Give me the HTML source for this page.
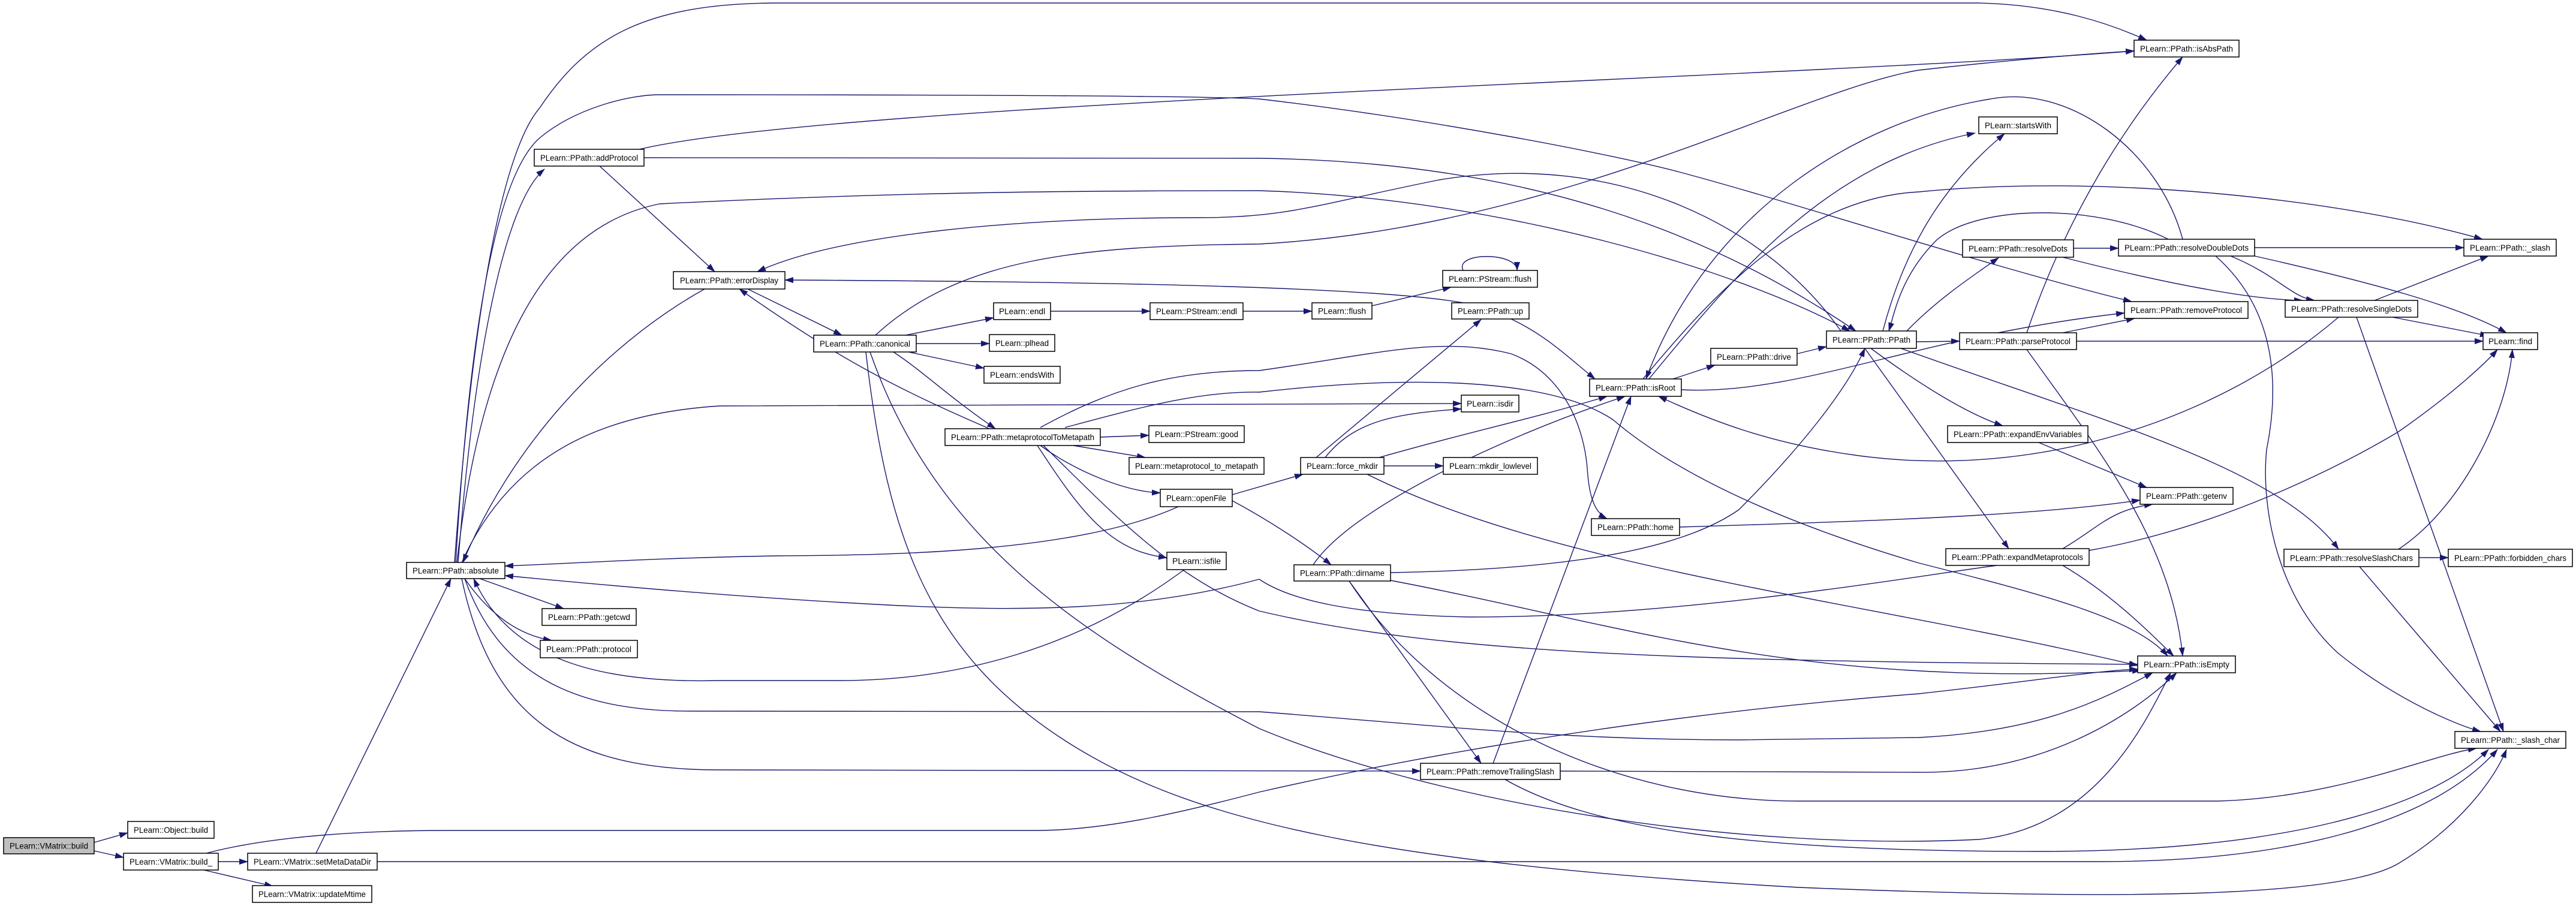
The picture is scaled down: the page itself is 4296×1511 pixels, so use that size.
<!DOCTYPE html>
<html><head><meta charset="utf-8"><style>
html,body{margin:0;padding:0;background:#fff;}
svg{display:block;}
text{font-family:"Liberation Sans",sans-serif;font-size:14px;fill:#000;}
.e{fill:none;stroke:#191970;stroke-width:1.4;marker-end:url(#a);}
.n{fill:#fff;stroke:#000;stroke-width:1.5;}
</style></head><body>
<svg width="4296" height="1511" viewBox="0 0 4296 1511" xmlns="http://www.w3.org/2000/svg">
<defs><marker id="a" markerWidth="15" markerHeight="10" refX="14" refY="5" orient="auto" markerUnits="userSpaceOnUse"><path d="M0,0 L15,5 L0,10 z" fill="#191970"/></marker></defs>
<g>
<path class="e" d="M157 1405 L213 1389"/>
<path class="e" d="M157 1419 L206 1430"/>
<path class="e" d="M364 1437 L413 1437"/>
<path class="e" d="M340 1451 L455 1478"/>
<path class="e" d="M344 1423 C450 1395 600 1385 750 1385 L1728 1385 C1850 1385 1990 1350 2100 1321 C2500 1230 2900 1180 3200 1157 C3400 1135 3500 1118 3565 1116"/>
<path class="e" d="M527 1423 L752 965"/>
<path class="e" d="M629 1437 L3500 1437 C3800 1437 4050 1380 4165 1250"/>
<path class="e" d="M800 965 L940 1015"/>
<path class="e" d="M775 965 C820 1030 870 1060 920 1068"/>
<path class="e" d="M758 938 C790 500 840 250 900 180 C980 60 1080 5 1300 5 L3300 5 C3430 8 3520 40 3580 67"/>
<path class="e" d="M764 938 C790 600 840 340 908 282"/>
<path class="e" d="M762 938 C800 600 900 380 1100 340 C1500 320 1800 318 2100 318 C2500 330 2900 450 3085 552"/>
<path class="e" d="M760 938 C780 600 820 300 900 230 C960 180 1050 158 1100 158 C1600 158 2000 160 2100 165 C2400 200 2700 260 2801 287 C3000 340 3300 440 3555 503"/>
<path class="e" d="M770 938 C850 760 1000 690 1200 677 L2437 673"/>
<path class="e" d="M775 965 C830 1120 950 1186 1150 1186 L2100 1187 C2400 1210 2600 1234 2900 1234 L3200 1230 C3400 1220 3500 1170 3590 1122"/>
<path class="e" d="M770 965 C820 1200 950 1284 1200 1284 L2369 1286"/>
<path class="e" d="M1066 249 C1400 170 3000 130 3559 85"/>
<path class="e" d="M1074 263 L2100 264 C2600 270 2900 420 3095 552"/>
<path class="e" d="M1000 277 L1192 453"/>
<path class="e" d="M1175 482 C1000 580 850 750 772 938"/>
<path class="e" d="M1247 482 L1404 559"/>
<path class="e" d="M1510 559 L1657 530"/>
<path class="e" d="M1528 573 L1650 573"/>
<path class="e" d="M1515 587 L1641 614"/>
<path class="e" d="M1490 587 C1540 620 1580 660 1660 715"/>
<path class="e" d="M1460 559 C1600 430 1800 410 2100 407 C2600 380 3000 150 3200 117 C3350 100 3480 90 3559 85"/>
<path class="e" d="M1444 587 C1480 900 1550 1100 1800 1250 C2000 1370 2300 1440 3000 1480 C3500 1500 3900 1500 4000 1440 C4100 1380 4160 1300 4180 1250"/>
<path class="e" d="M1451 587 C1560 900 1800 1060 2100 1215 C2400 1340 2900 1420 3300 1400 C3500 1380 3580 1200 3620 1122"/>
<path class="e" d="M1752 519 L1918 519"/>
<path class="e" d="M2073 519 L2188 519"/>
<path class="e" d="M2288 510 L2420 479"/>
<path class="e" d="M2440 451 C2425 420 2530 420 2530 451"/>
<path class="e" d="M1835 729 L1916 726"/>
<path class="e" d="M1790 743 L1910 763"/>
<path class="e" d="M1735 743 C1800 790 1880 820 1935 822"/>
<path class="e" d="M1730 743 C1800 850 1850 920 1946 930"/>
<path class="e" d="M1650 715 C1500 650 1400 600 1233 482"/>
<path class="e" d="M1735 713 C1850 650 1950 618 2100 618 C2300 590 2400 560 2520 590 C2600 620 2640 700 2647 780 C2650 830 2660 855 2680 865"/>
<path class="e" d="M1776 713 C1900 680 2000 652 2100 654 C2400 620 2600 640 2690 700 C2760 760 2900 850 3200 939 C3400 990 3560 1030 3615 1094"/>
<path class="e" d="M1740 743 C1850 850 1950 960 2100 1019 C2400 1090 2800 1103 3565 1108"/>
<path class="e" d="M2750 632 C2900 450 3050 270 3294 222"/>
<path class="e" d="M2740 632 C2850 500 3000 330 3200 320 C3500 290 3900 330 4140 399"/>
<path class="e" d="M2790 632 L2860 609"/>
<path class="e" d="M2997 590 L3046 578"/>
<path class="e" d="M2804 650 C3000 660 3200 560 3543 522"/>
<path class="e" d="M2520 532 C2580 560 2620 600 2660 632"/>
<path class="e" d="M2440 505 C2300 480 1900 470 1309 467"/>
<path class="e" d="M3070 552 C2950 380 2700 250 2400 300 C2200 340 2150 363 2000 363 C1700 363 1400 390 1263 453"/>
<path class="e" d="M2195 763 L2470 533"/>
<path class="e" d="M2210 763 C2260 700 2330 690 2437 682"/>
<path class="e" d="M2308 777 L2407 777"/>
<path class="e" d="M2280 791 C2600 950 3100 1000 3565 1110"/>
<path class="e" d="M2300 763 C2450 720 2550 700 2680 661"/>
<path class="e" d="M2055 835 C2120 870 2180 910 2220 942"/>
<path class="e" d="M2055 825 L2173 791"/>
<path class="e" d="M1965 845 C1800 920 1500 926 1300 927 C1100 930 950 940 842 944"/>
<path class="e" d="M1975 950 C1800 1080 1600 1135 1400 1135 L1200 1135 C1000 1140 850 1100 790 965"/>
<path class="e" d="M3330 943 C3200 960 2800 1030 2450 1029 C2250 1025 2150 1000 2100 966 C1900 1020 1700 1019 1500 1010 C1200 995 950 970 842 960"/>
<path class="e" d="M2190 942 C2250 850 2500 730 2710 661"/>
<path class="e" d="M2250 969 L2470 1273"/>
<path class="e" d="M2319 955 C2600 950 2800 920 2900 850 C3000 750 3080 650 3110 581"/>
<path class="e" d="M2319 968 C2700 1040 3000 1150 3570 1118"/>
<path class="e" d="M2250 969 C2400 1200 2700 1336 3000 1336 L3700 1336 C3900 1330 4050 1260 4130 1248"/>
<path class="e" d="M2490 1273 L2720 661"/>
<path class="e" d="M2602 1286 L3200 1288 C3400 1290 3550 1200 3630 1122"/>
<path class="e" d="M2510 1300 C2650 1380 2900 1420 3400 1420 C3800 1420 4050 1350 4150 1250"/>
<path class="e" d="M2801 879 C3100 870 3400 860 3569 834"/>
<path class="e" d="M3380 555 C3450 350 3550 200 3640 95"/>
<path class="e" d="M3140 552 C3180 400 3250 300 3343 223"/>
<path class="e" d="M3180 552 C3230 500 3290 460 3333 430"/>
<path class="e" d="M3196 570 L3268 569"/>
<path class="e" d="M3120 581 C3200 640 3280 690 3340 710"/>
<path class="e" d="M3110 581 L3350 915"/>
<path class="e" d="M3170 581 C3500 700 3800 780 3900 916"/>
<path class="e" d="M3458 414 L3533 414"/>
<path class="e" d="M3440 429 C3600 470 3750 500 3840 501"/>
<path class="e" d="M3760 413 L4109 413"/>
<path class="e" d="M3720 427 C3800 460 3820 495 3860 501"/>
<path class="e" d="M3760 427 C3950 470 4100 510 4180 555"/>
<path class="e" d="M3695 427 C3800 520 3800 650 3780 750 C3770 850 3800 1000 3900 1090 C4000 1170 4100 1210 4137 1220"/>
<path class="e" d="M3640 399 C3600 250 3450 140 3320 165 C3100 200 2850 350 2745 632"/>
<path class="e" d="M3616 399 C3500 340 3300 340 3230 400 C3170 460 3160 520 3150 552"/>
<path class="e" d="M3960 501 L4150 427"/>
<path class="e" d="M3990 529 L4150 560"/>
<path class="e" d="M3930 529 L4175 1220"/>
<path class="e" d="M3900 529 C3700 700 3400 800 3100 760 C2950 740 2850 700 2766 661"/>
<path class="e" d="M3440 555 L3560 531"/>
<path class="e" d="M3463 569 L4141 569"/>
<path class="e" d="M3380 583 C3500 750 3620 900 3640 1094"/>
<path class="e" d="M3400 738 L3580 813"/>
<path class="e" d="M3440 915 C3500 880 3520 850 3590 841"/>
<path class="e" d="M3440 943 C3520 990 3580 1050 3625 1094"/>
<path class="e" d="M3484 918 C3700 880 3900 780 4000 720 C4100 650 4150 600 4165 583"/>
<path class="e" d="M4034 930 L4083 930"/>
<path class="e" d="M3935 945 L4170 1220"/>
<path class="e" d="M4000 916 C4100 850 4180 700 4190 583"/>
</g>
<g>
<rect x="6" y="1397" width="151" height="27" fill="#bfbfbf" stroke="#000" stroke-width="1.5"/><text x="81.5" y="1415.5" text-anchor="middle" textLength="131" lengthAdjust="spacingAndGlyphs">PLearn::VMatrix::build</text>
<rect class="n" x="213" y="1370" width="144" height="28"/><text x="285" y="1389" text-anchor="middle" textLength="124" lengthAdjust="spacingAndGlyphs">PLearn::Object::build</text>
<rect class="n" x="206" y="1423" width="158" height="28"/><text x="285" y="1442" text-anchor="middle" textLength="138" lengthAdjust="spacingAndGlyphs">PLearn::VMatrix::build_</text>
<rect class="n" x="413" y="1423" width="216" height="28"/><text x="521" y="1442" text-anchor="middle" textLength="196" lengthAdjust="spacingAndGlyphs">PLearn::VMatrix::setMetaDataDir</text>
<rect class="n" x="421" y="1477" width="199" height="28"/><text x="520.5" y="1496" text-anchor="middle" textLength="179" lengthAdjust="spacingAndGlyphs">PLearn::VMatrix::updateMtime</text>
<rect class="n" x="678" y="938" width="164" height="27"/><text x="760" y="956.5" text-anchor="middle" textLength="144" lengthAdjust="spacingAndGlyphs">PLearn::PPath::absolute</text>
<rect class="n" x="904" y="1015" width="157" height="28"/><text x="982.5" y="1034" text-anchor="middle" textLength="137" lengthAdjust="spacingAndGlyphs">PLearn::PPath::getcwd</text>
<rect class="n" x="901" y="1068" width="162" height="29"/><text x="982" y="1087.5" text-anchor="middle" textLength="142" lengthAdjust="spacingAndGlyphs">PLearn::PPath::protocol</text>
<rect class="n" x="891" y="249" width="183" height="28"/><text x="982.5" y="268" text-anchor="middle" textLength="163" lengthAdjust="spacingAndGlyphs">PLearn::PPath::addProtocol</text>
<rect class="n" x="1123" y="453" width="186" height="29"/><text x="1216" y="472.5" text-anchor="middle" textLength="164" lengthAdjust="spacingAndGlyphs">PLearn::PPath::errorDisplay</text>
<rect class="n" x="1357" y="559" width="171" height="28"/><text x="1442.5" y="578" text-anchor="middle" textLength="151" lengthAdjust="spacingAndGlyphs">PLearn::PPath::canonical</text>
<rect class="n" x="1657" y="505" width="95" height="28"/><text x="1704.5" y="524" text-anchor="middle" textLength="77" lengthAdjust="spacingAndGlyphs">PLearn::endl</text>
<rect class="n" x="1918" y="505" width="155" height="28"/><text x="1995.5" y="524" text-anchor="middle" textLength="135" lengthAdjust="spacingAndGlyphs">PLearn::PStream::endl</text>
<rect class="n" x="1650" y="558" width="109" height="28"/><text x="1704.5" y="577" text-anchor="middle" textLength="89" lengthAdjust="spacingAndGlyphs">PLearn::plhead</text>
<rect class="n" x="1641" y="611" width="127" height="28"/><text x="1704.5" y="630" text-anchor="middle" textLength="107" lengthAdjust="spacingAndGlyphs">PLearn::endsWith</text>
<rect class="n" x="1576" y="715" width="259" height="28"/><text x="1705.5" y="734" text-anchor="middle" textLength="239" lengthAdjust="spacingAndGlyphs">PLearn::PPath::metaprotocolToMetapath</text>
<rect class="n" x="1916" y="710" width="159" height="28"/><text x="1995.5" y="729" text-anchor="middle" textLength="139" lengthAdjust="spacingAndGlyphs">PLearn::PStream::good</text>
<rect class="n" x="1883" y="763" width="225" height="28"/><text x="1995.5" y="782" text-anchor="middle" textLength="205" lengthAdjust="spacingAndGlyphs">PLearn::metaprotocol_to_metapath</text>
<rect class="n" x="1935" y="816" width="120" height="29"/><text x="1995" y="835.5" text-anchor="middle" textLength="100" lengthAdjust="spacingAndGlyphs">PLearn::openFile</text>
<rect class="n" x="1946" y="921" width="99" height="29"/><text x="1995.5" y="940.5" text-anchor="middle" textLength="81" lengthAdjust="spacingAndGlyphs">PLearn::isfile</text>
<rect class="n" x="2406" y="451" width="158" height="28"/><text x="2485" y="470" text-anchor="middle" textLength="138" lengthAdjust="spacingAndGlyphs">PLearn::PStream::flush</text>
<rect class="n" x="2188" y="505" width="100" height="27"/><text x="2238" y="523.5" text-anchor="middle" textLength="80" lengthAdjust="spacingAndGlyphs">PLearn::flush</text>
<rect class="n" x="2421" y="505" width="129" height="27"/><text x="2485.5" y="523.5" text-anchor="middle" textLength="109" lengthAdjust="spacingAndGlyphs">PLearn::PPath::up</text>
<rect class="n" x="2651" y="632" width="153" height="29"/><text x="2727.5" y="651.5" text-anchor="middle" textLength="133" lengthAdjust="spacingAndGlyphs">PLearn::PPath::isRoot</text>
<rect class="n" x="2853" y="581" width="144" height="28"/><text x="2925" y="600" text-anchor="middle" textLength="124" lengthAdjust="spacingAndGlyphs">PLearn::PPath::drive</text>
<rect class="n" x="3046" y="552" width="150" height="29"/><text x="3121" y="571.5" text-anchor="middle" textLength="130" lengthAdjust="spacingAndGlyphs">PLearn::PPath::PPath</text>
<rect class="n" x="2437" y="659" width="96" height="28"/><text x="2485" y="678" text-anchor="middle" textLength="78" lengthAdjust="spacingAndGlyphs">PLearn::isdir</text>
<rect class="n" x="2169" y="763" width="139" height="28"/><text x="2238.5" y="782" text-anchor="middle" textLength="119" lengthAdjust="spacingAndGlyphs">PLearn::force_mkdir</text>
<rect class="n" x="2407" y="763" width="157" height="28"/><text x="2485.5" y="782" text-anchor="middle" textLength="137" lengthAdjust="spacingAndGlyphs">PLearn::mkdir_lowlevel</text>
<rect class="n" x="2654" y="865" width="147" height="28"/><text x="2727.5" y="884" text-anchor="middle" textLength="127" lengthAdjust="spacingAndGlyphs">PLearn::PPath::home</text>
<rect class="n" x="2158" y="942" width="161" height="27"/><text x="2238.5" y="960.5" text-anchor="middle" textLength="141" lengthAdjust="spacingAndGlyphs">PLearn::PPath::dirname</text>
<rect class="n" x="2369" y="1273" width="233" height="27"/><text x="2485.5" y="1291.5" text-anchor="middle" textLength="213" lengthAdjust="spacingAndGlyphs">PLearn::PPath::removeTrailingSlash</text>
<rect class="n" x="3559" y="67" width="175" height="28"/><text x="3646.5" y="86" text-anchor="middle" textLength="155" lengthAdjust="spacingAndGlyphs">PLearn::PPath::isAbsPath</text>
<rect class="n" x="3300" y="195" width="131" height="28"/><text x="3365.5" y="214" text-anchor="middle" textLength="111" lengthAdjust="spacingAndGlyphs">PLearn::startsWith</text>
<rect class="n" x="3273" y="400" width="185" height="29"/><text x="3365.5" y="419.5" text-anchor="middle" textLength="165" lengthAdjust="spacingAndGlyphs">PLearn::PPath::resolveDots</text>
<rect class="n" x="3533" y="399" width="227" height="28"/><text x="3646.5" y="418" text-anchor="middle" textLength="207" lengthAdjust="spacingAndGlyphs">PLearn::PPath::resolveDoubleDots</text>
<rect class="n" x="4109" y="399" width="154" height="28"/><text x="4186" y="418" text-anchor="middle" textLength="134" lengthAdjust="spacingAndGlyphs">PLearn::PPath::_slash</text>
<rect class="n" x="3543" y="503" width="206" height="28"/><text x="3646" y="522" text-anchor="middle" textLength="186" lengthAdjust="spacingAndGlyphs">PLearn::PPath::removeProtocol</text>
<rect class="n" x="3811" y="501" width="221" height="28"/><text x="3921.5" y="520" text-anchor="middle" textLength="201" lengthAdjust="spacingAndGlyphs">PLearn::PPath::resolveSingleDots</text>
<rect class="n" x="3268" y="555" width="195" height="28"/><text x="3365.5" y="574" text-anchor="middle" textLength="175" lengthAdjust="spacingAndGlyphs">PLearn::PPath::parseProtocol</text>
<rect class="n" x="4141" y="555" width="91" height="28"/><text x="4186.5" y="574" text-anchor="middle" textLength="73" lengthAdjust="spacingAndGlyphs">PLearn::find</text>
<rect class="n" x="3248" y="710" width="234" height="28"/><text x="3365" y="729" text-anchor="middle" textLength="214" lengthAdjust="spacingAndGlyphs">PLearn::PPath::expandEnvVariables</text>
<rect class="n" x="3569" y="813" width="155" height="28"/><text x="3646.5" y="832" text-anchor="middle" textLength="135" lengthAdjust="spacingAndGlyphs">PLearn::PPath::getenv</text>
<rect class="n" x="3245" y="915" width="239" height="28"/><text x="3364.5" y="934" text-anchor="middle" textLength="219" lengthAdjust="spacingAndGlyphs">PLearn::PPath::expandMetaprotocols</text>
<rect class="n" x="3809" y="916" width="225" height="29"/><text x="3921.5" y="935.5" text-anchor="middle" textLength="205" lengthAdjust="spacingAndGlyphs">PLearn::PPath::resolveSlashChars</text>
<rect class="n" x="4083" y="916" width="207" height="29"/><text x="4186.5" y="935.5" text-anchor="middle" textLength="187" lengthAdjust="spacingAndGlyphs">PLearn::PPath::forbidden_chars</text>
<rect class="n" x="3565" y="1094" width="163" height="28"/><text x="3646.5" y="1113" text-anchor="middle" textLength="143" lengthAdjust="spacingAndGlyphs">PLearn::PPath::isEmpty</text>
<rect class="n" x="4094" y="1220" width="185" height="28"/><text x="4186.5" y="1239" text-anchor="middle" textLength="165" lengthAdjust="spacingAndGlyphs">PLearn::PPath::_slash_char</text>
</g>
</svg>
</body></html>
